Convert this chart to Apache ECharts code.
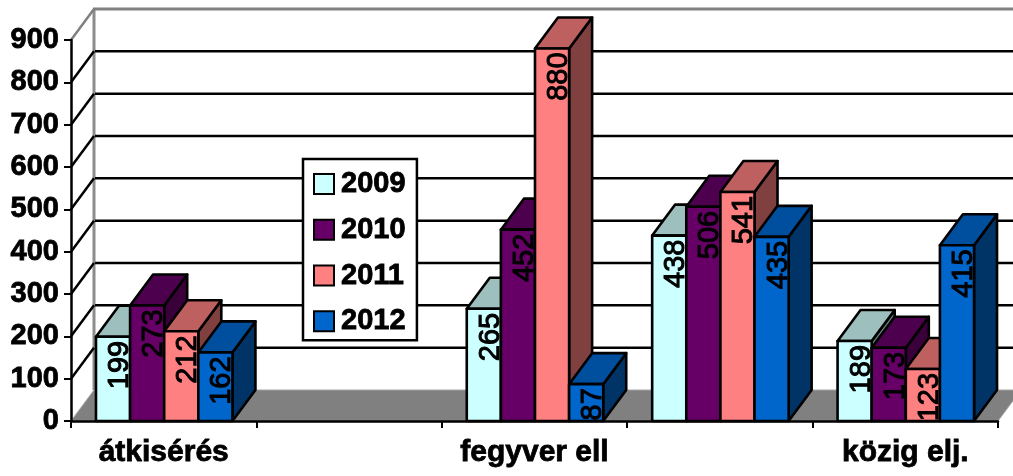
<!DOCTYPE html>
<html>
<head>
<meta charset="utf-8">
<style>
  html, body { margin: 0; padding: 0; background: #fff; }
  #chart { width: 1013px; height: 476px; }
</style>
<script src="https://cdn.jsdelivr.net/npm/echarts@6/dist/echarts.min.js"></script>
</head>
<body>
<div id="chart"></div>
<script>
  // the 2nd and 4th category have no printed label in the picture
  var categories = ['átkisérés', '', 'fegyver ell', '', 'közig elj.'];
  var years = ['2009', '2010', '2011', '2012'];
  var values2009 = [199, null, 265, 438, 189];
  var values2010 = [273, null, 452, 506, 173];
  var values2011 = [212, null, 880, 541, 123];
  var values2012 = [162, null, 87, 435, 415];
  var yTicks = [0, 100, 200, 300, 400, 500, 600, 700, 800, 900];

  var faces = [
    { front: '#CCFFFF', top: '#9DBFBD', side: '#668080' },
    { front: '#660066', top: '#4D004D', side: '#3A003A' },
    { front: '#FF8080', top: '#BF6060', side: '#804040' },
    { front: '#0066CC', top: '#004F9E', side: '#003366' }
  ];

  var FONT = '"Liberation Sans", Arial, sans-serif';
  // fake 3d depth of walls and bars
  var DX = 23;
  var DY = -31;

  function poly(points, fill, z2) {
    return {
      type: 'polygon',
      z2: z2,
      shape: { points: points },
      style: { fill: fill, stroke: '#000', lineWidth: 2.6, lineJoin: 'round' }
    };
  }

  function line(x1, y1, x2, y2, color, width) {
    return {
      type: 'line',
      shape: { x1: x1, y1: y1, x2: x2, y2: y2 },
      style: { stroke: color, lineWidth: width }
    };
  }

  function renderWall(params, api) {
    var v = api.value(1);
    var p = api.coord([0, v]);
    var band = api.size([1, 0])[0];
    var x0 = p[0] - band / 2;
    var x1 = x0 + band * categories.length;
    var kids = [];
    if (v === 0) {
      kids.push({
        type: 'polygon',
        shape: { points: [[x0, p[1]], [x0 + DX, p[1] + DY], [x1 + DX, p[1] + DY], [x1, p[1]]] },
        style: { fill: '#808080', stroke: '#a6a6a6', lineWidth: 1 }
      });
      var top = api.coord([0, 900])[1];
      kids.push(line(x0 + DX, p[1] + DY, x0 + DX, top + DY, '#8c8c8c', 3));
      kids.push(line(x0 + DX - 1, top + DY, x1 + DX, top + DY, '#808080', 3));
      kids.push(line(x0, top, x0 + DX, top + DY, '#808080', 2.5));
      return { type: 'group', children: kids };
    }
    if (v < 900) {
      kids.push(line(x0, p[1], x0 + DX, p[1] + DY, '#000', 2.5));
      kids.push(line(x0 + DX + 1, p[1] + DY, x1 + DX, p[1] + DY, '#000', 2.5));
    }
    return { type: 'group', children: kids };
  }

  function renderBar(seriesPos) {
    return function (params, api) {
      var v = api.value(1);
      if (isNaN(v)) return null;
      var cat = api.value(0);
      var top = api.coord([cat, v]);
      var base = api.coord([cat, 0]);
      var band = api.size([1, 0])[0];
      var w = band * 0.184;
      var l = top[0] - w * 2 + w * seriesPos + 0.5;
      var r = l + w;
      var t = top[1];
      var b = base[1];
      var c = faces[seriesPos];
      return {
        type: 'group',
        children: [
          poly([[r, b], [r + DX, b + DY], [r + DX, t + DY], [r, t]], c.side, 1),
          poly([[l, t], [l + DX, t + DY], [r + DX, t + DY], [r, t]], c.top, 1),
          poly([[l, t], [r, t], [r, b], [l, b]], c.front, 1),
          {
            type: 'text',
            z2: 100,
            x: (l + r) / 2 + 7,
            y: t + 4,
            rotation: Math.PI / 2,
            style: {
              text: String(v),
              fill: '#000',
              stroke: '#000',
              lineWidth: 1,
              font: '29px ' + FONT,
              align: 'right',
              verticalAlign: 'middle'
            }
          }
        ]
      };
    };
  }

  function toRows(list) {
    return list.map(function (v, i) { return [i, v]; });
  }

  var allValues = [values2009, values2010, values2011, values2012];

  var series = [{
    name: 'wall',
    type: 'custom',
    silent: true,
    clip: false,
    renderItem: renderWall,
    data: yTicks.map(function (v) { return [0, v]; })
  }];
  years.forEach(function (year, i) {
    series.push({
      name: year,
      type: 'custom',
      clip: false,
      itemStyle: { color: faces[i].front },
      renderItem: renderBar(i),
      data: toRows(allValues[i])
    });
  });

  var boldText = {
    color: '#000',
    fontFamily: FONT,
    fontWeight: 'bold',
    textBorderColor: '#000',
    textBorderWidth: 0.8
  };

  var myChart = echarts.init(document.getElementById('chart'));
  myChart.setOption({
    animation: false,
    backgroundColor: '#fff',
    grid: { left: 71, right: 15, top: 40, bottom: 55 },
    legend: {
      data: years,
      orient: 'vertical',
      left: 303,
      top: 159,
      selectedMode: false,
      backgroundColor: '#fff',
      borderColor: '#000',
      borderWidth: 2.5,
      borderRadius: 0,
      padding: [10, 11, 4, 10],
      itemGap: 16,
      itemWidth: 20,
      itemHeight: 20,
      icon: 'rect',
      itemStyle: { borderColor: '#000', borderWidth: 2 },
      textStyle: Object.assign({ fontSize: 29, padding: [0, 0, 0, 2] }, boldText)
    },
    xAxis: {
      type: 'category',
      data: categories,
      z: 3,
      axisLine: { show: true, lineStyle: { color: '#000', width: 2.5 } },
      axisTick: { show: true, length: 7, lineStyle: { color: '#000', width: 2 } },
      axisLabel: Object.assign({ interval: 0, fontSize: 30, margin: 17 }, boldText),
      splitLine: { show: false }
    },
    yAxis: {
      type: 'value',
      min: 0,
      max: 900,
      interval: 100,
      z: 3,
      axisLine: { show: true, lineStyle: { color: '#000', width: 2.5 } },
      axisTick: { show: true, length: 7, lineStyle: { color: '#000', width: 2 } },
      axisLabel: Object.assign({ fontSize: 29, margin: 12 }, boldText),
      splitLine: { show: false }
    },
    series: series
  });
</script>
</body>
</html>
